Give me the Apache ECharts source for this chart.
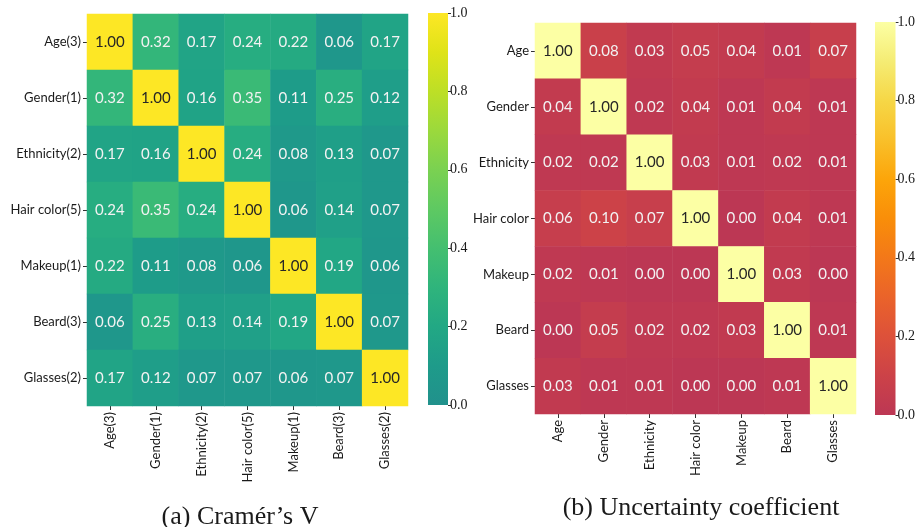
<!DOCTYPE html>
<html>
<head>
<meta charset="utf-8">
<script src="https://cdn.jsdelivr.net/npm/echarts@6/dist/echarts.min.js"></script>
<style>
  html, body { margin: 0; padding: 0; background: #ffffff; }
  #chart { width: 918px; height: 527px; }
</style>
</head>
<body>
<div id="chart"></div>
<script>
// Attribute names (with number of classes for Cramér's V)
const cramerLabels = ['Age(3)', 'Gender(1)', 'Ethnicity(2)', 'Hair color(5)', 'Makeup(1)', 'Beard(3)', 'Glasses(2)'];
const uncertaintyLabels = ['Age', 'Gender', 'Ethnicity', 'Hair color', 'Makeup', 'Beard', 'Glasses'];

// Cramér's V, row by row
const cramerV = [
  [1.00, 0.32, 0.17, 0.24, 0.22, 0.06, 0.17],
  [0.32, 1.00, 0.16, 0.35, 0.11, 0.25, 0.12],
  [0.17, 0.16, 1.00, 0.24, 0.08, 0.13, 0.07],
  [0.24, 0.35, 0.24, 1.00, 0.06, 0.14, 0.07],
  [0.22, 0.11, 0.08, 0.06, 1.00, 0.19, 0.06],
  [0.06, 0.25, 0.13, 0.14, 0.19, 1.00, 0.07],
  [0.17, 0.12, 0.07, 0.07, 0.06, 0.07, 1.00]
];

// Uncertainty coefficient, row by row
const uncertainty = [
  [1.00, 0.08, 0.03, 0.05, 0.04, 0.01, 0.07],
  [0.04, 1.00, 0.02, 0.04, 0.01, 0.04, 0.01],
  [0.02, 0.02, 1.00, 0.03, 0.01, 0.02, 0.01],
  [0.06, 0.10, 0.07, 1.00, 0.00, 0.04, 0.01],
  [0.02, 0.01, 0.00, 0.00, 1.00, 0.03, 0.00],
  [0.00, 0.05, 0.02, 0.02, 0.03, 1.00, 0.01],
  [0.03, 0.01, 0.01, 0.00, 0.00, 0.01, 1.00]
];

const colorbarTicks = [0.0, 0.2, 0.4, 0.6, 0.8, 1.0];

// Upper halves of viridis and inferno
const viridisTop = ['#21918c', '#1e9b8a', '#22a884', '#2fb47c', '#44bf70', '#5ec962',
                    '#7ad151', '#9bd93c', '#bddf26', '#dfe318', '#fde725'];
const infernoTop = ['#bc3754', '#cc4248', '#dd513a', '#ea632a', '#f37819', '#f98e09',
                    '#fca50a', '#f9c02a', '#f6d746', '#f5ec74', '#fcffa4'];

const SANS = 'Lato, "DejaVu Sans", sans-serif';
const SERIF = '"Liberation Serif", "DejaVu Serif", serif';

function cells(matrix) {
  const out = [];
  matrix.forEach((row, r) => {
    row.forEach((v, c) => {
      out.push({
        value: [c, r, v],
        label: { color: v >= 0.5 ? '#262626' : '#f2f2f2' }
      });
    });
  });
  return out;
}

function gradient(colors) {
  return new echarts.graphic.LinearGradient(0, 1, 0, 0,
    colors.map((c, i) => ({ offset: i / (colors.length - 1), color: c })));
}

const catY = (labels, gi) => ({
  type: 'category', gridIndex: gi, data: labels, inverse: true,
  axisLine: { show: false },
  axisTick: { show: true, length: 4, alignWithLabel: true, lineStyle: { color: '#333' } },
  axisLabel: { fontFamily: SANS, fontSize: 13, color: '#1a1a1a', margin: 6 },
  splitLine: { show: false }
});
const catX = (labels, gi) => ({
  type: 'category', gridIndex: gi, data: labels, position: 'bottom',
  axisLine: { show: false },
  axisTick: { show: true, length: 4, alignWithLabel: true, lineStyle: { color: '#333' } },
  axisLabel: { fontFamily: SANS, fontSize: 13, color: '#1a1a1a', rotate: 90, margin: 6, interval: 0 },
  splitLine: { show: false }
});
const barX = (gi) => ({
  type: 'category', gridIndex: gi, data: [''], show: false
});
const barY = (gi) => ({
  type: 'value', gridIndex: gi, min: colorbarTicks[0], max: colorbarTicks[colorbarTicks.length - 1],
  interval: 0.2, position: 'right',
  axisLine: { show: false },
  axisTick: { show: true, length: 3, lineStyle: { color: '#333' } },
  axisLabel: { fontFamily: SERIF, fontSize: 14, color: '#1a1a1a', margin: 2,
               formatter: v => v.toFixed(1) },
  splitLine: { show: false }
});

const heatLabel = { show: true, fontFamily: SANS, fontSize: 15, formatter: p => p.value[2].toFixed(2) };
const captionStyle = { fontFamily: SERIF, fontSize: 26, fontWeight: 'normal', color: '#1a1a1a' };

const chart = echarts.init(document.getElementById('chart'), null, { renderer: 'canvas' });
chart.setOption({
  backgroundColor: '#ffffff',
  animation: false,
  title: [
    { text: '(a) Cramér’s V', left: 235, top: 499, textAlign: 'center', textStyle: captionStyle },
    { text: '(b) Uncertainty coefficient', left: 696, top: 490, textAlign: 'center', textStyle: captionStyle }
  ],
  grid: [
    { left: 87, top: 14, width: 321, height: 392 },
    { left: 428, top: 13, width: 20, height: 392 },
    { left: 535, top: 23, width: 321, height: 391 },
    { left: 875, top: 22, width: 21, height: 393 }
  ],
  xAxis: [catX(cramerLabels, 0), barX(1), catX(uncertaintyLabels, 2), barX(3)],
  yAxis: [catY(cramerLabels, 0), barY(1), catY(uncertaintyLabels, 2), barY(3)],
  visualMap: [
    { show: false, type: 'continuous', min: 0, max: 1, seriesIndex: 0, dimension: 2,
      inRange: { color: viridisTop } },
    { show: false, type: 'continuous', min: 0, max: 1, seriesIndex: 2, dimension: 2,
      inRange: { color: infernoTop } }
  ],
  series: [
    { type: 'heatmap', xAxisIndex: 0, yAxisIndex: 0, data: cells(cramerV),
      label: heatLabel, itemStyle: { borderWidth: 0 }, emphasis: { disabled: true } },
    { type: 'bar', xAxisIndex: 1, yAxisIndex: 1, data: [colorbarTicks[colorbarTicks.length - 1]],
      barWidth: '100%', itemStyle: { color: gradient(viridisTop) }, silent: true },
    { type: 'heatmap', xAxisIndex: 2, yAxisIndex: 2, data: cells(uncertainty),
      label: heatLabel, itemStyle: { borderWidth: 0 }, emphasis: { disabled: true } },
    { type: 'bar', xAxisIndex: 3, yAxisIndex: 3, data: [colorbarTicks[colorbarTicks.length - 1]],
      barWidth: '100%', itemStyle: { color: gradient(infernoTop) }, silent: true }
  ]
});
</script>
</body>
</html>
